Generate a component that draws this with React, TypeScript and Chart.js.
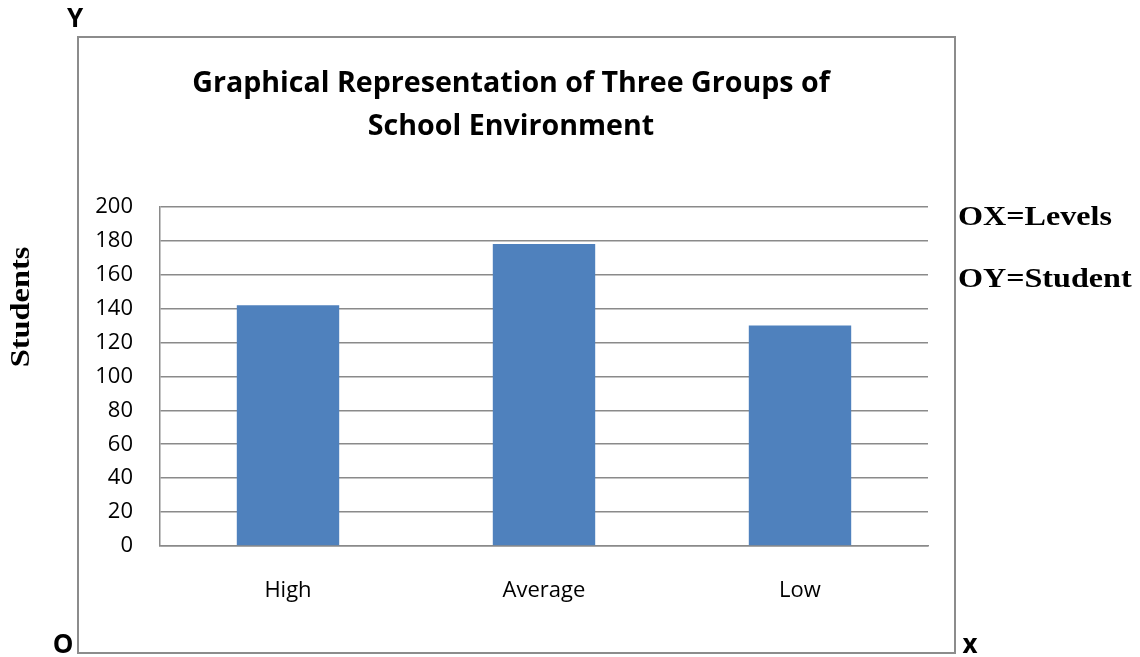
import React, { useEffect, useRef } from "react";
import { Chart, registerables } from "chart.js";

Chart.register(...registerables);

// Levels of school environment and number of students in each
const levels = ["High", "Average", "Low"];
const students = [142, 178, 130];

const yMin = 0;
const yMax = 200;
const yStep = 20;

const titleLines = ["Graphical Representation of Three Groups of", "School Environment"];
const yAxisTitle = "Students";
const legendLines = ["OX=Levels", "OY=Student"];

const SANS = "'Open Sans', sans-serif";
const SERIF = "'Liberation Serif', 'Times New Roman', serif";
const GRID = "#8a8a8a";

// Outer frame, axis letters and the side notes (serif notes are drawn widened)
const framePlugin = {
  id: "frame",
  afterDraw(chart: Chart) {
    const ctx = chart.ctx;
    ctx.save();
    ctx.strokeStyle = "#8c8c8c";
    ctx.lineWidth = 2;
    ctx.strokeRect(78, 37, 877, 616);

    ctx.fillStyle = "#000";
    ctx.textAlign = "center";
    ctx.textBaseline = "alphabetic";
    ctx.font = `bold 26px ${SANS}`;
    ctx.fillText("Y", 75, 27);
    ctx.fillText("O", 63, 653);
    ctx.fillText("x", 970, 653);

    ctx.font = `bold 27px ${SERIF}`;
    ctx.textAlign = "left";
    ctx.save();
    ctx.translate(958, 0);
    ctx.scale(1.19, 1);
    ctx.fillText(legendLines[0], 0, 225);
    ctx.fillText(legendLines[1], 0, 287);
    ctx.restore();

    ctx.translate(22, 307);
    ctx.rotate(-Math.PI / 2);
    ctx.scale(1.2, 1);
    ctx.textAlign = "center";
    ctx.textBaseline = "middle";
    ctx.font = `bold 27px ${SERIF}`;
    ctx.fillText(yAxisTitle, 0, 0);
    ctx.restore();
  },
};

export default function App() {
  const canvasRef = useRef<HTMLCanvasElement | null>(null);

  useEffect(() => {
    document.body.style.margin = "0";
    const canvas = canvasRef.current;
    if (!canvas) return;
    const chart = new Chart(canvas, {
      type: "bar",
      data: {
        labels: levels,
        datasets: [
          {
            label: yAxisTitle,
            data: students,
            backgroundColor: "#4f81bd",
            borderWidth: 0,
            barPercentage: 0.4,
            categoryPercentage: 1.0,
          },
        ],
      },
      options: {
        animation: false,
        responsive: false,
        maintainAspectRatio: false,
        layout: { padding: { left: 94, right: 212, top: 40, bottom: 20 } },
        plugins: {
          legend: { display: false },
          tooltip: { enabled: false },
          title: {
            display: true,
            text: titleLines,
            color: "#000",
            font: { family: SANS, size: 28.6, weight: "bold", lineHeight: 1.5 },
            padding: { top: 22, bottom: 59 },
          },
        },
        scales: {
          x: {
            afterFit: (s: any) => {
              s.height = 91;
            },
            grid: { display: false, drawTicks: false },
            border: { display: true, color: GRID, width: 1.5 },
            ticks: { color: "#000", font: { family: SANS, size: 22 }, padding: 32 },
          },
          y: {
            min: yMin,
            max: yMax,
            afterFit: (s: any) => {
              s.width = 66;
            },
            ticks: {
              stepSize: yStep,
              color: "#000",
              font: { family: SANS, size: 22 },
              padding: 27,
            },
            grid: { color: GRID, lineWidth: 1.5, drawTicks: false },
            border: { display: true, color: GRID, width: 1.5 },
          },
        },
      },
      plugins: [framePlugin],
    });
    return () => chart.destroy();
  }, []);

  return (
    <div style={{ width: 1140, height: 657 }}>
      <canvas ref={canvasRef} width={1140} height={657} style={{ display: "block" }} />
    </div>
  );
}
